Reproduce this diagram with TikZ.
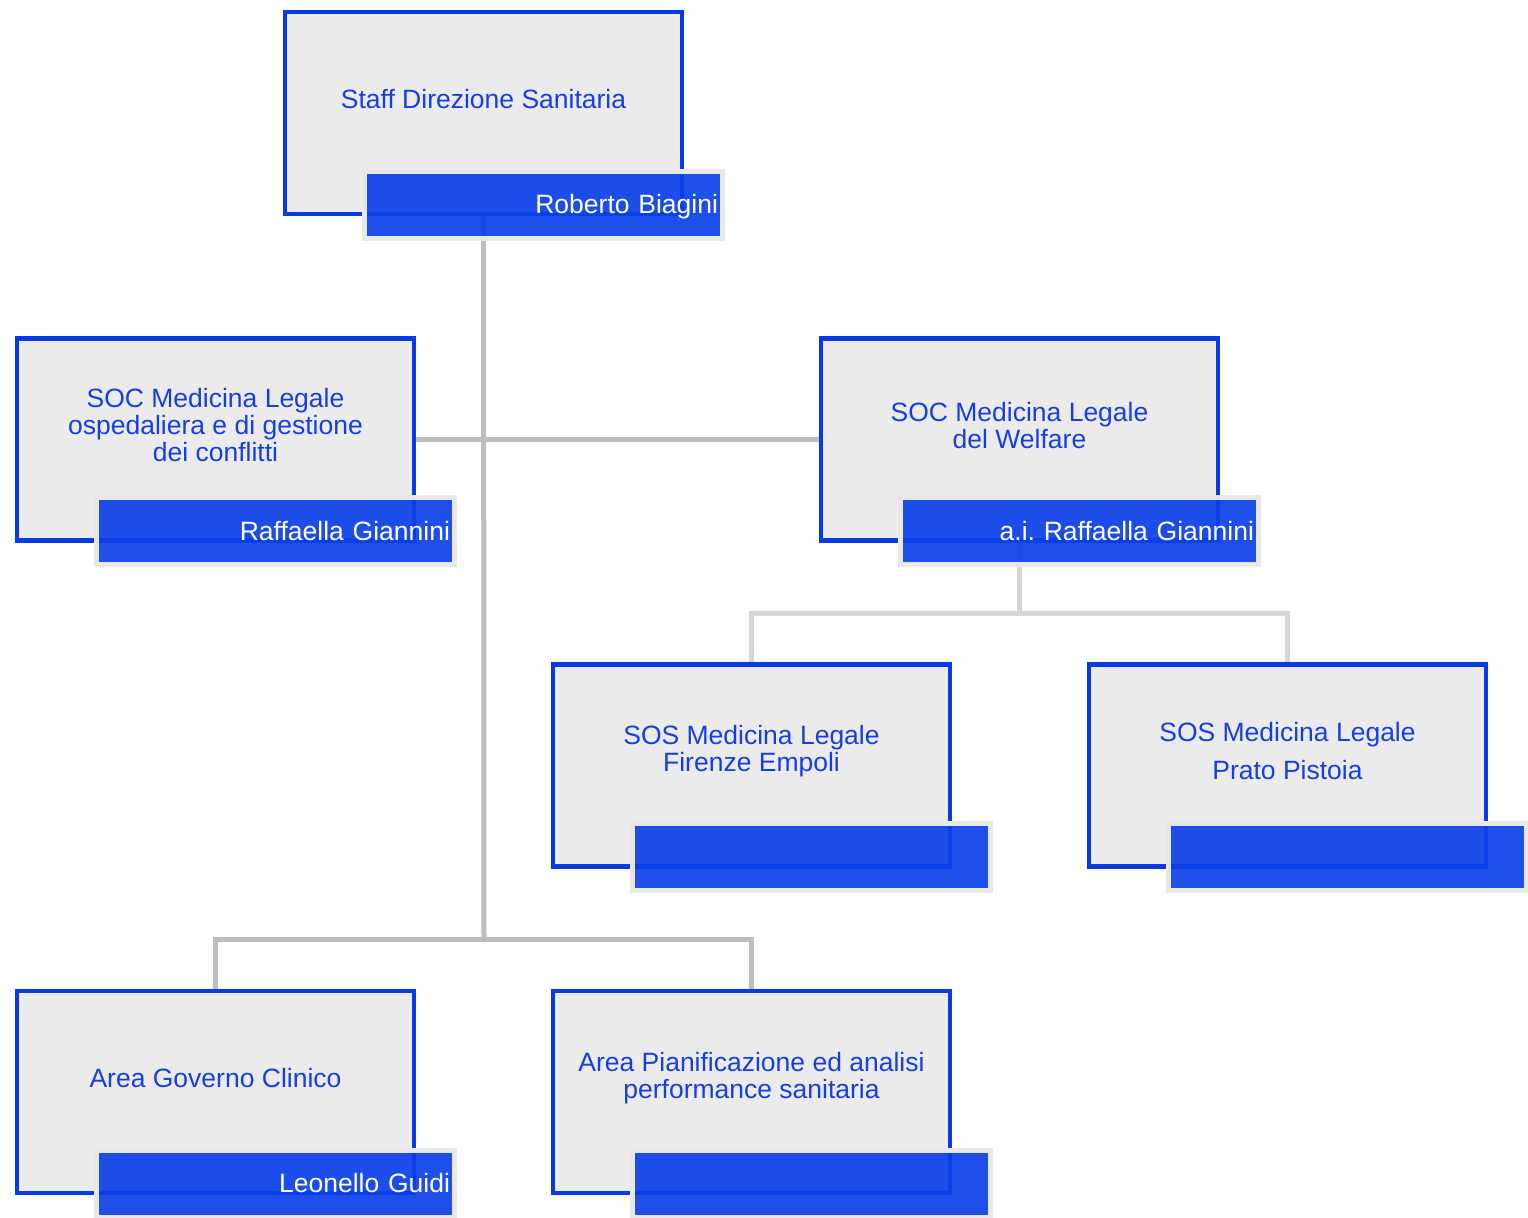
\documentclass[tikz,border=0pt]{standalone}
\usepackage{fontspec}
\setmainfont{Liberation Sans}
\usepackage{xcolor}
\usetikzlibrary{backgrounds}

\definecolor{boxblue}{RGB}{8,58,235}
\definecolor{textblue}{RGB}{22,62,230}
\definecolor{boxgray}{RGB}{235,235,235}
\definecolor{bargray}{RGB}{232,232,232}
\definecolor{barblue}{RGB}{12,64,232}
\definecolor{linegray}{RGB}{190,190,190}
\definecolor{sublinegray}{RGB}{214,214,214}

\begin{document}
\begin{tikzpicture}[x=0.5pt, y=-0.5pt,
    unit/.style={draw=boxblue, line width=2.3pt, fill=boxgray, minimum width=198.5pt, minimum height=101pt, inner sep=0pt},
    unittext/.style={text=textblue, align=center, font=\fontsize{13.25}{13.5}\selectfont},
    namebar/.style={draw=bargray, line width=2.5pt, fill=barblue, fill opacity=0.92, text opacity=1, text=white, minimum width=179pt, minimum height=33.5pt, inner xsep=2.25pt, inner ysep=0pt, text width=174.5pt, text height=8.6pt, text depth=0pt, align=right, font=\fontsize{13.25}{13.5}\selectfont},
    link/.style={draw=linegray, line width=2.5pt},
    sublink/.style={draw=sublinegray, line width=2.5pt}]
    \useasboundingbox (0,0) rectangle (1528,1218);

    % Draw units
    \node[unit] (top) at (483.5,113) {};
    \node[unit] (soc1) at (215.5,439.5) {};
    \node[unit] (welf) at (1019.5,439.5) {};
    \node[unit] (sosfe) at (751.5,765.5) {};
    \node[unit] (sospp) at (1287.5,765.5) {};
    \node[unit] (gc) at (215.5,1092) {};
    \node[unit] (pian) at (751.5,1092) {};

    % Draw unit names
    \node[unittext] (top-text) at ([yshift=7pt]top.center) {Staff Direzione Sanitaria};
    \node[unittext] (soc1-text) at ([yshift=7pt]soc1.center) {SOC Medicina Legale\\ospedaliera e di gestione\\dei conflitti};
    \node[unittext] (welf-text) at ([yshift=7pt]welf.center) {SOC Medicina Legale\\del Welfare};
    \node[unittext] (sosfe-text) at ([yshift=7pt]sosfe.center) {SOS Medicina Legale\\Firenze Empoli};
    \node[unittext] (sospp-text) at ([yshift=7pt]sospp.center) {SOS Medicina Legale\\[5.5pt]Prato Pistoia};
    \node[unittext] (gc-text) at ([yshift=7pt]gc.center) {Area Governo Clinico};
    \node[unittext] (pian-text) at ([yshift=7pt]pian.center) {Area Pianificazione ed analisi\\performance sanitaria};

    % Draw head bars
    \node[namebar] (top-head) at ([xshift=30pt,yshift=-46pt]top.center) {Roberto Biagini};
    \node[namebar] (soc1-head) at ([xshift=30pt,yshift=-46pt]soc1.center) {Raffaella Giannini};
    \node[namebar] (welf-head) at ([xshift=30pt,yshift=-46pt]welf.center) {a.i.\ Raffaella Giannini};
    \node[namebar] (sosfe-head) at ([xshift=30pt,yshift=-46pt]sosfe.center) {};
    \node[namebar] (sospp-head) at ([xshift=30pt,yshift=-46pt]sospp.center) {};
    \node[namebar] (gc-head) at ([xshift=30pt,yshift=-46pt]gc.center) {Leonello Guidi};
    \node[namebar] (pian-head) at ([xshift=30pt,yshift=-46pt]pian.center) {};

    % Draw connectors
    \coordinate (fork) at (484,940);
    \coordinate (subfork) at (1019.5,614);
    \begin{scope}[on background layer]
      \draw[link] (top.center) -- (fork);
      \draw[link] (soc1.east) -- (welf.west);
      \draw[link] (gc.north) |- (fork) -| (pian.north);
      \draw[sublink] (welf.center) -- (subfork);
      \draw[sublink] (sosfe.north) |- (subfork) -| (sospp.north);
    \end{scope}
\end{tikzpicture}
\end{document}
